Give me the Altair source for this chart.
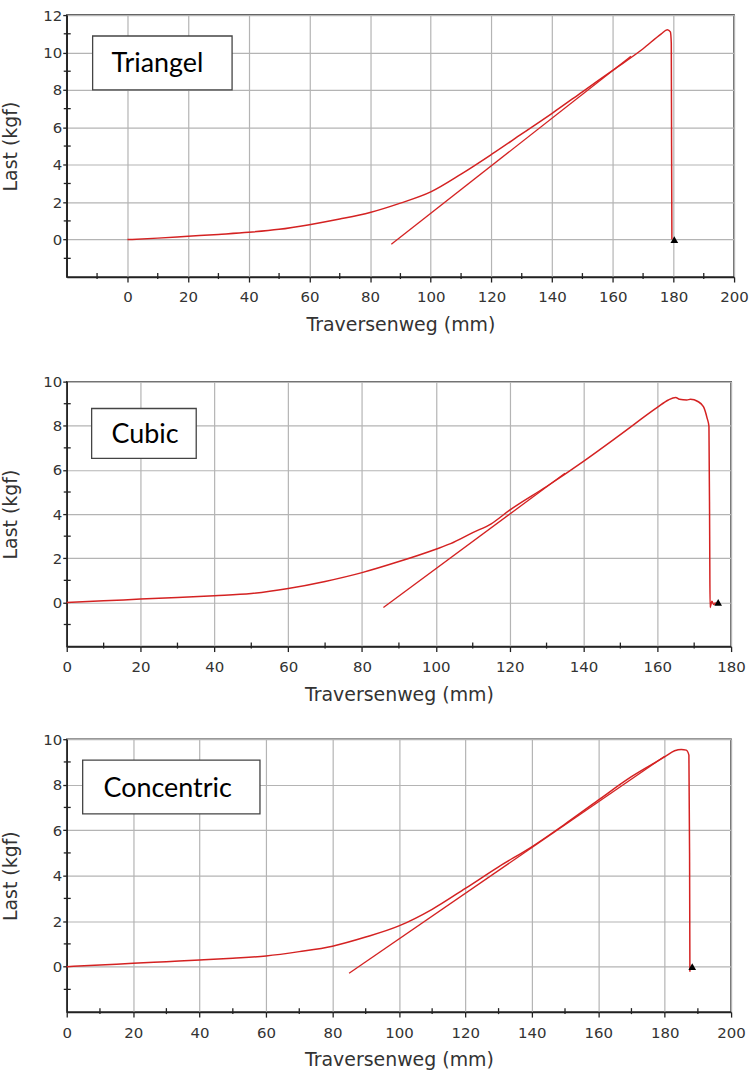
import altair as alt
import pandas as pd

# ---------------- data ----------------
names = ["Triangel", "Cubic", "Concentric"]

x_tri = [0, 10, 20, 30, 40, 50, 60, 70, 80, 90, 100, 110, 120, 130, 140, 150, 160, 170, 176, 178, 179, 179.3, 179.4, 179.5]
y_tri = [0, 0.08, 0.18, 0.28, 0.39, 0.55, 0.8, 1.1, 1.45, 1.95, 2.55, 3.5, 4.55, 5.65, 6.75, 7.9, 9.05, 10.2, 11.0, 11.22, 11.1, 10.5, 5, 0]
tx_tri = [87, 166]
ty_tri = [-0.25, 9.8]
mx_tri = [180.3]
my_tri = [0]

x_cub = [0, 10, 20, 30, 40, 50, 60, 70, 80, 90, 100, 104, 110, 115, 120, 130, 140, 150, 160, 163, 165, 166, 168, 169, 171, 172.5, 173.5, 174, 174.2, 174.3, 174.8, 175.3, 175.8]
y_cub = [0, 0.07, 0.15, 0.22, 0.3, 0.4, 0.63, 0.95, 1.35, 1.85, 2.41, 2.66, 3.16, 3.56, 4.18, 5.25, 6.39, 7.6, 8.83, 9.17, 9.28, 9.2, 9.17, 9.2, 9.1, 8.87, 8.35, 7.97, 3, -0.23, 0.05, -0.1, 0.0]
tx_cub = [85.8, 135]
ty_cub = [-0.23, 5.85]
mx_cub = [176.5]
my_cub = [0]

x_con = [0, 10, 20, 30, 40, 50, 60, 70, 80, 90, 100, 110, 120, 130, 140, 150, 160, 170, 180, 183, 185, 186.5, 187.3, 187.5, 187.6]
y_con = [0, 0.07, 0.15, 0.22, 0.29, 0.37, 0.47, 0.66, 0.9, 1.3, 1.79, 2.52, 3.44, 4.39, 5.27, 6.27, 7.32, 8.35, 9.22, 9.49, 9.55, 9.52, 9.3, 5, -0.22]
tx_con = [85, 180]
ty_con = [-0.29, 9.25]
mx_con = [188.3]
my_con = [0]

x_domains = [[-20, 200], [0, 180], [0, 200]]
y_domains = [[-2, 12], [-2, 10], [-2, 10]]

RED = "#d42222"
FONT = "DejaVu Sans"


def panel(name, cx, cy, tx, ty, mx, my, xdom, ydom, w, h, box, txt):
    curve = pd.DataFrame({"x": cx, "y": cy, "seq": list(range(len(cx)))})
    tang = pd.DataFrame({"x": tx, "y": ty, "seq": list(range(len(tx)))})
    mark = pd.DataFrame({"x": mx, "y": my})
    lab = pd.DataFrame({"label": [name]})

    x_major = [v for v in range(xdom[0], xdom[1] + 1, 10) if v >= 0 and v % 20 == 0]
    x_minor = [v for v in range(xdom[0], xdom[1] + 1, 10) if v % 20 != 0]
    y_major = [v for v in range(ydom[0], ydom[1] + 1) if v >= 0 and v % 2 == 0]
    y_minor = [v for v in range(ydom[0], ydom[1] + 1) if v % 2 != 0]

    xaxis = alt.Axis(
        values=x_major, title="Traversenweg (mm)", labelFlush=False, labelOverlap=False,
        tickSize=5, labelPadding=8, titlePadding=11,
    )
    yaxis = alt.Axis(
        values=y_major, title="Last (kgf)", labelFlush=False, labelOverlap=False,
        tickSize=4, labelPadding=1, titlePadding=22,
    )
    xs = alt.Scale(domain=xdom, nice=False, zero=False)
    ys = alt.Scale(domain=ydom, nice=False, zero=False)

    base_line = alt.Chart(curve).mark_line(color=RED, strokeWidth=1.5, interpolate="monotone").encode(
        x=alt.X("x:Q", scale=xs, axis=xaxis),
        y=alt.Y("y:Q", scale=ys, axis=yaxis),
        order="seq:Q",
    )
    tan_line = alt.Chart(tang).mark_line(color=RED, strokeWidth=1.3).encode(
        x=alt.X("x:Q", scale=xs),
        y=alt.Y("y:Q", scale=ys),
        order="seq:Q",
    )
    tri = alt.Chart(mark).mark_point(shape="triangle-up", filled=True, color="black", size=60, opacity=1).encode(
        x=alt.X("x:Q", scale=xs),
        y=alt.Y("y:Q", scale=ys),
    )
    xminor = alt.Chart(pd.DataFrame({"v": x_minor})).mark_rule(color="#222", strokeWidth=1.3).encode(
        x=alt.X("v:Q", scale=xs), y=alt.value(h - 4), y2=alt.value(h + 2)
    )
    yminor = alt.Chart(pd.DataFrame({"v": y_minor})).mark_rule(color="#222", strokeWidth=1.3).encode(
        y=alt.Y("v:Q", scale=ys), x=alt.value(-3), x2=alt.value(4)
    )
    rect = alt.Chart(lab).mark_rect(fill="white", stroke="#444", strokeWidth=1.3).encode(
        x=alt.value(box[0]), x2=alt.value(box[1]), y=alt.value(box[2]), y2=alt.value(box[3])
    )
    text = alt.Chart(lab).mark_text(font="Lato", fontSize=27, align="left", baseline="middle", color="black").encode(
        x=alt.value(txt[0]), y=alt.value(txt[1]), text="label:N"
    )
    return alt.layer(base_line, tan_line, tri, xminor, yminor, rect, text).properties(width=w, height=h)


p1 = panel(names[0], x_tri, y_tri, tx_tri, ty_tri, mx_tri, my_tri, x_domains[0], y_domains[0], 670, 263, (26, 166, 21, 75), (45, 49))
p2 = panel(names[1], x_cub, y_cub, tx_cub, ty_cub, mx_cub, my_cub, x_domains[1], y_domains[1], 667, 266, (25, 130, 27, 77), (45, 54))
p3 = panel(names[2], x_con, y_con, tx_con, ty_con, mx_con, my_con, x_domains[2], y_domains[2], 667, 274, (16, 194, 21, 75), (37, 50))

top = alt.vconcat(p1, p2, spacing=38).resolve_scale(x="independent", y="independent")
chart = alt.vconcat(top, p3, spacing=26).resolve_scale(x="independent", y="independent").properties(
    padding={"left": 1, "top": 5, "right": 5, "bottom": 5}, background="white"
).configure_view(stroke="#333", strokeWidth=1.5).configure_axis(
    labelFont=FONT, labelFontSize=15, labelColor="#333",
    titleFont=FONT, titleFontSize=19, titleFontWeight="normal", titleColor="#333",
    gridColor="#b4b4b4", gridWidth=1.2,
    domainColor="#222", domainWidth=1.5, tickColor="#222", tickWidth=1.3,
)

chart.save("out.html", embed_options={"renderer": "svg", "actions": False})
